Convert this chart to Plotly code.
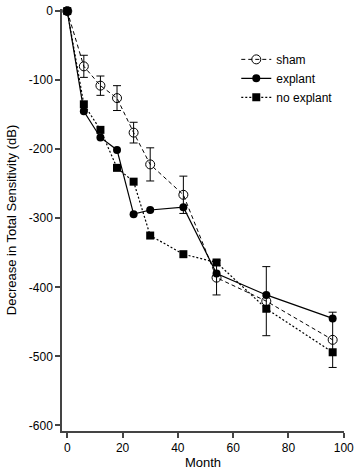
import plotly.graph_objects as go

months = [0, 6, 12, 18, 24, 30, 42, 54, 72, 96]
sham = [0, -80, -108, -126, -176, -222, -266, -386, -420, -476]
sham_err = [0, 16, 14, 18, 15, 24, 27, 25, 50, 40]
explant = [0, -145, -183, -201, -294, -288, -284, -380, -411, -445]
no_explant = [0, -135, -172, -227, -247, -325, -352, -364, -431, -494]

y_ticks = [0, -100, -200, -300, -400, -500, -600]
y_tick_labels = ["0", "-100", "-200", "-300", "-400", "-500", "-600"]
x_ticks = [0, 20, 40, 60, 80, 100]

FONT = "Liberation Sans, Arial, sans-serif"

fig = go.Figure()
fig.add_trace(go.Scatter(
    x=months, y=sham, name="sham", mode="lines+markers",
    line=dict(color="black", width=1, dash="4px,3px"),
    marker=dict(symbol="circle-open", size=9, color="black", line=dict(width=1, color="black")),
    error_y=dict(type="data", array=sham_err, visible=True, color="black", thickness=1, width=4),
    cliponaxis=False,
))
fig.add_trace(go.Scatter(
    x=months, y=explant, name="explant", mode="lines+markers",
    line=dict(color="black", width=1.2),
    marker=dict(symbol="circle", size=8, color="black"),
    cliponaxis=False,
))
fig.add_trace(go.Scatter(
    x=months, y=no_explant, name="no explant", mode="lines+markers",
    line=dict(color="black", width=1.2, dash="2px,2px"),
    marker=dict(symbol="square", size=8, color="black"),
    cliponaxis=False,
))

fig.update_layout(
    width=358, height=473,
    margin=dict(l=62, r=10, t=4, b=42),
    paper_bgcolor="white", plot_bgcolor="white",
    font=dict(family=FONT, size=12, color="black"),
    showlegend=True,
    legend=dict(x=0.618, y=0.915, xanchor="left", yanchor="top",
                bgcolor="rgba(0,0,0,0)", font=dict(size=12), tracegroupgap=0,
                itemwidth=30),
    xaxis=dict(range=[-1.9, 100.1], tickvals=x_ticks, showgrid=False, zeroline=False,
               showline=True, linecolor="#444", linewidth=1.5,
               ticks="outside", ticklen=5, tickcolor="#444", tickwidth=1.5,
               ticklabeloverflow="allow",
               title=dict(text="Month", font=dict(size=13), standoff=4)),
    yaxis=dict(range=[-608, 3], tickvals=y_ticks, ticktext=y_tick_labels, showgrid=False, zeroline=False,
               showline=True, linecolor="#444", linewidth=1.5,
               ticks="outside", ticklen=5, tickcolor="#444", tickwidth=1.5,
               ticklabeloverflow="allow"),
    annotations=[dict(text="Decrease in Total Sensitivity (dB)", textangle=-90,
                      xref="paper", yref="paper", x=-0.18, y=0.5,
                      xanchor="center", yanchor="middle", showarrow=False,
                      font=dict(size=13))],
)

fig.write_html("out.html", config={"displayModeBar": False},
               post_script="document.body.style.margin='0';document.body.style.padding='0';")
